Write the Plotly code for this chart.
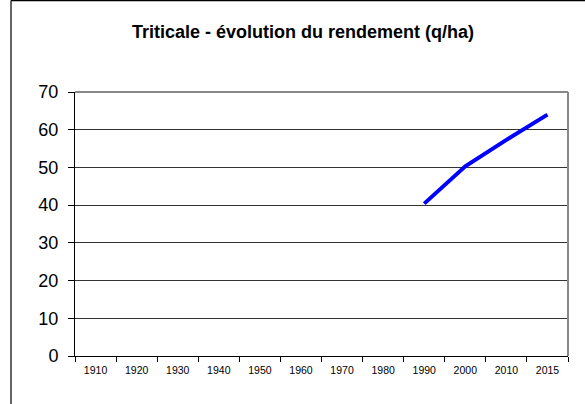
import plotly.graph_objects as go

years = ["1910", "1920", "1930", "1940", "1950", "1960", "1970", "1980", "1990", "2000", "2010", "2015"]
rendement = [None, None, None, None, None, None, None, None, 40.4, 50.3, 57.3, 64.0]
y_ticks = [0, 10, 20, 30, 40, 50, 60, 70]

W, H = 585, 404
L, R, T, B = 75, 17, 92, 48
pw, ph = W - L - R, H - T - B

def px(x):
    return (x - L) / pw

def py(y):
    return (H - B - y) / ph

fig = go.Figure()
fig.add_trace(go.Scatter(
    x=years, y=rendement, mode="lines",
    line=dict(color="#0000FF", width=4),
    connectgaps=False, hoverinfo="skip", showlegend=False,
))

font = "Liberation Sans, Arial, sans-serif"
fig.update_layout(
    width=W, height=H,
    margin=dict(l=L, r=R, t=T, b=B),
    paper_bgcolor="white", plot_bgcolor="white",
    title=dict(text="<b>Triticale - évolution du rendement (q/ha)</b>",
               x=303 / W, xanchor="center", y=1 - 32 / H, yanchor="middle",
               font=dict(family=font, size=18, color="black")),
    xaxis=dict(type="category", categoryorder="array", categoryarray=years,
               range=[-0.5, len(years) - 0.5],
               tickson="boundaries", ticks="outside", ticklen=5, tickcolor="black",
               showline=True, linecolor="black", linewidth=1, showgrid=False,
               tickfont=dict(family=font, size=10.5, color="black"),
               ticklabelstandoff=4, zeroline=False, fixedrange=True),
    yaxis=dict(range=[0, 70], tickvals=y_ticks, ticks="outside", ticklen=6,
               tickcolor="black", showline=True, linecolor="black", linewidth=1,
               showgrid=True, gridcolor="#333333", gridwidth=1, zeroline=False,
               tickfont=dict(family=font, size=18, color="black"),
               ticklabelstandoff=6, fixedrange=True),
    shapes=[
        # plot area top and right borders (gray)
        dict(type="line", xref="paper", yref="paper", x0=0, x1=1, y0=1, y1=1,
             line=dict(color="#888888", width=2)),
        dict(type="line", xref="paper", yref="paper", x0=1, x1=1, y0=0, y1=1,
             line=dict(color="#888888", width=2)),
        # outer chart frame
        dict(type="line", xref="paper", yref="paper", x0=px(11), x1=px(11),
             y0=py(0.5), y1=py(420), line=dict(color="#333333", width=1.5)),
        dict(type="line", xref="paper", yref="paper", x0=px(11), x1=px(600),
             y0=py(0.5), y1=py(0.5), line=dict(color="black", width=1.5)),
    ],
)

fig.write_html("out.html", config={"displayModeBar": False},
               post_script="document.body.style.margin='0';document.body.style.padding='0';")
